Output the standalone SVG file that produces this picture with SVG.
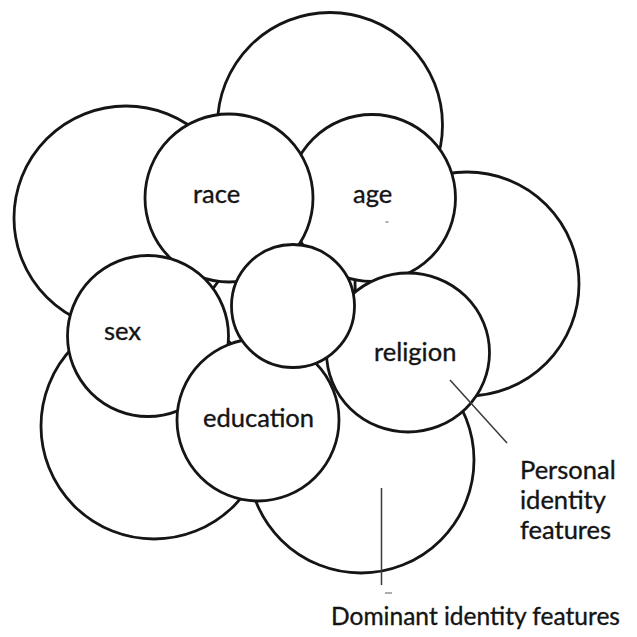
<svg xmlns="http://www.w3.org/2000/svg" width="637" height="637" viewBox="0 0 637 637">
  <style>
    .ring { fill: #ffffff; stroke: #151515; stroke-width: 2.8; }
    .label { font-family: Lato, "Open Sans", "Liberation Sans", sans-serif; font-size: 25.5px; fill: #141414; stroke: #141414; stroke-width: 0.35; }
    .pointer { stroke: #3a3a3a; stroke-width: 1.5; fill: none; }
    .speck { stroke: #777777; stroke-width: 1.2; }
  </style>
  <rect width="637" height="637" fill="#ffffff"/>

  <!-- outer ring: dominant identity features -->
  <g id="dominant-top"><circle class="ring" cx="330" cy="125" r="112.5"/></g>
  <g id="dominant-left-top"><circle class="ring" cx="126" cy="218" r="112"/></g>
  <g id="dominant-right"><circle class="ring" cx="467" cy="284" r="112"/></g>
  <g id="dominant-left-bottom"><circle class="ring" cx="154" cy="426" r="113"/></g>
  <g id="dominant-bottom"><circle class="ring" cx="361" cy="460" r="113"/></g>

  <!-- inner ring: personal identity features -->
  <g id="age">
    <circle class="ring" cx="372" cy="198" r="83.5"/>
    <text class="label" x="353" y="203">age</text>
    <line class="speck" x1="385.5" y1="222" x2="388.5" y2="222"/>
  </g>
  <g id="race">
    <circle class="ring" cx="229" cy="198" r="84"/>
    <text class="label" x="193" y="203">race</text>
  </g>
  <g id="sex">
    <circle class="ring" cx="148" cy="336" r="80.5"/>
    <text class="label" x="104" y="340">sex</text>
  </g>
  <g id="education">
    <circle class="ring" cx="258" cy="420" r="81"/>
    <text class="label" x="203" y="427">education</text>
  </g>
  <g id="religion">
    <ellipse class="ring" cx="408" cy="352.5" rx="81.5" ry="79.5"/>
    <text class="label" x="374" y="361">religion</text>
  </g>
  <g id="core">
    <circle class="ring" cx="293" cy="306" r="61.5"/>
  </g>

  <!-- pointer lines -->
  <g id="connectors">
    <line class="pointer" x1="450" y1="380" x2="507" y2="443"/>
    <line class="pointer" x1="381.5" y1="488" x2="381.5" y2="585" stroke="#555555"/>
    <line class="speck" x1="385" y1="593" x2="392" y2="593"/>
  </g>

  <!-- legend labels -->
  <g id="personal-label">
    <text class="label" x="520" y="479">Personal</text>
    <text class="label" x="520" y="509">identity</text>
    <text class="label" x="520" y="539">features</text>
  </g>
  <g id="dominant-label">
    <text class="label" x="331" y="625" textLength="289" lengthAdjust="spacingAndGlyphs">Dominant identity features</text>
  </g>
</svg>
